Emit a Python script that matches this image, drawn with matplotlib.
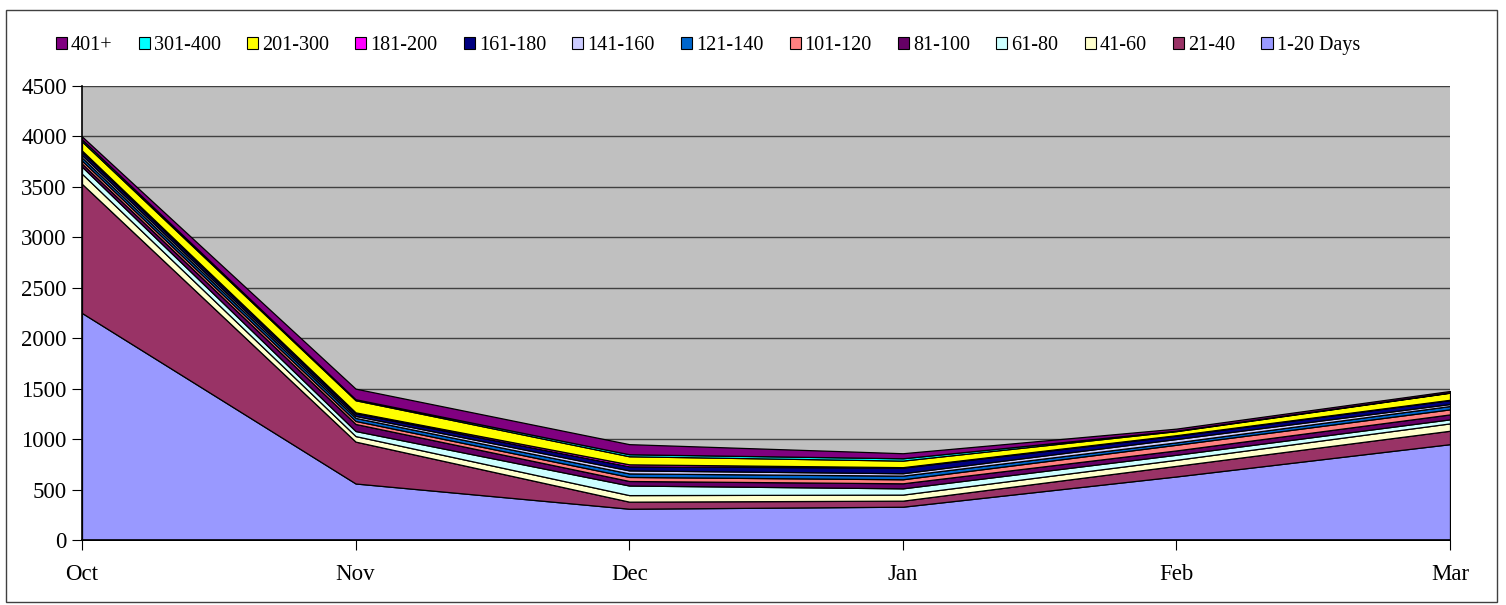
import matplotlib.pyplot as plt
from matplotlib.patches import Rectangle, Patch

months = ["Oct", "Nov", "Dec", "Jan", "Feb", "Mar"]

# значення шарів (накопичувальна діаграма з областями)
d1_20 = [2250, 560, 310, 330, 630, 950]
d21_40 = [1280, 415, 70, 60, 105, 133]
d41_60 = [100, 55, 65, 60, 60, 73]
d61_80 = [70, 50, 95, 62, 50, 40]
d81_100 = [30, 70, 45, 50, 43, 49]
d101_120 = [30, 30, 40, 40, 56, 50]
d121_140 = [30, 30, 35, 36, 24, 33]
d141_160 = [25, 20, 30, 24, 33, 20]
d161_180 = [30, 25, 40, 55, 33, 39]
d181_200 = [15, 10, 20, 5, 5, 3]
d201_300 = [90, 120, 80, 65, 40, 70]
d301_400 = [20, 10, 20, 23, 5, 3]
d401 = [30, 105, 100, 50, 20, 14]

labels = ["1-20 Days", "21-40", "41-60", "61-80", "81-100", "101-120", "121-140",
          "141-160", "161-180", "181-200", "201-300", "301-400", "401+"]
series = [d1_20, d21_40, d41_60, d61_80, d81_100, d101_120, d121_140,
          d141_160, d161_180, d181_200, d201_300, d301_400, d401]
colors = ["#9999FF", "#993366", "#FFFFCC", "#CCFFFF", "#660066", "#FF8080", "#0066CC",
          "#CCCCFF", "#000080", "#FF00FF", "#FFFF00", "#00FFFF", "#800080"]

plt.rcParams['font.family'] = ['Liberation Serif', 'DejaVu Serif']

fig = plt.figure(figsize=(15.06, 6.05), dpi=100)
ax = fig.add_axes([82 / 1506, 65 / 605, 1368 / 1506, 454 / 605])

x = list(range(len(months)))
ax.set_facecolor("#C0C0C0")
ax.stackplot(x, *series, colors=colors, edgecolor="black", linewidth=0.9, zorder=3)

ax.set_xlim(0, len(months) - 1)
ax.set_ylim(0, 4500)
ax.set_yticks(range(0, 4501, 500))
ax.set_xticks(x)
ax.set_xticklabels(months)
ax.grid(axis="y", color="#404040", linewidth=1, zorder=1)
ax.set_axisbelow(True)
ax.tick_params(axis="both", labelsize=16.5, direction="out", length=7, color="black")
ax.tick_params(axis="x", pad=10)
ax.tick_params(axis="y", pad=4)
for side in ["top", "right"]:
    ax.spines[side].set_visible(False)
for side in ["left", "bottom"]:
    ax.spines[side].set_color("black")
    ax.spines[side].set_linewidth(1.2)
    ax.spines[side].set_zorder(5)

# легенда у зворотному порядку
handles = [Patch(facecolor=c, edgecolor="black", linewidth=0.8) for c in colors]
fig.legend(handles[::-1], labels[::-1], loc="center", bbox_to_anchor=(0.47, 0.925),
           ncol=13, frameon=False, fontsize=14.5, handlelength=0.55, handleheight=0.55,
           handletextpad=0.2, columnspacing=1.3)

# зовнішня рамка
fig.patches.append(Rectangle((6 / 1506, 3 / 605), 1491 / 1506, 592 / 605,
                             transform=fig.transFigure, fill=False,
                             edgecolor="#404040", linewidth=1))

fig.savefig("out.png", dpi=100)
